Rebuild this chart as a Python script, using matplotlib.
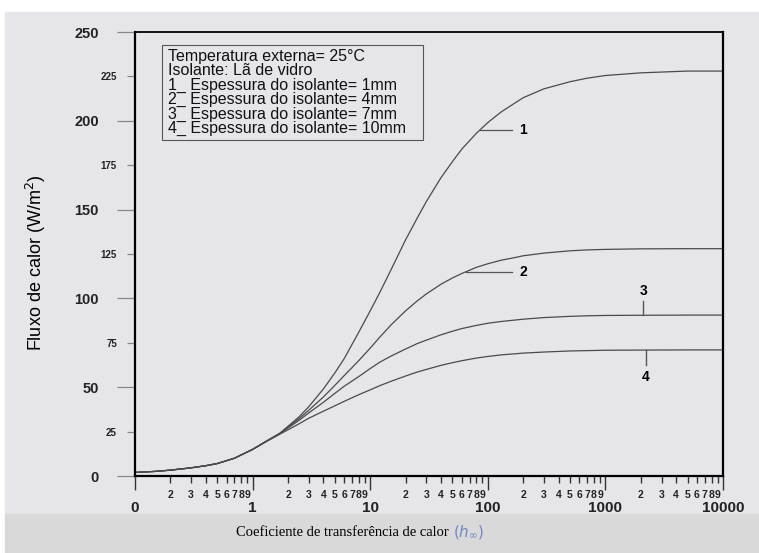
import numpy as np
import matplotlib.pyplot as plt
from matplotlib.patches import Rectangle
from matplotlib.ticker import FixedLocator, FixedFormatter


# coeficiente h (eixo log, o rótulo "0" fica em 0.1)
h = [0.1, 0.15, 0.2, 0.3, 0.4, 0.5, 0.7, 1, 1.3, 1.7, 2, 2.5, 3, 4, 5, 6, 8,
     10, 12, 15, 20, 25, 30, 40, 50, 60, 80, 100, 130, 170, 200, 300, 500,
     700, 1000, 2000, 5000, 10000]

# fluxo de calor (W/m2) para cada espessura de isolante
q_1mm = [2.0, 2.6, 3.3, 4.6, 5.8, 7.0, 10.0, 15.0, 19.5, 24.0, 28.0, 33.5,
         39.0, 49.0, 58.0, 66.0, 81.0, 93.0, 103.0, 116.0, 133.0, 145.0, 154.5,
         168.0, 177.0, 184.0, 193.0, 199.0, 205.0, 210.0, 213.0, 218.0, 222.0,
         224.0, 225.5, 227.0, 228.0, 228.0]
q_4mm = [2.0, 2.6, 3.3, 4.6, 5.8, 7.0, 10.0, 15.0, 19.5, 24.0, 27.5, 32.5,
         37.0, 44.5, 51.0, 56.5, 65.0, 72.0, 78.0, 85.0, 93.0, 98.5, 102.5,
         108.0, 111.5, 114.0, 117.5, 119.5, 121.5, 123.0, 124.0, 125.5, 126.8,
         127.3, 127.6, 127.9, 128.0, 128.0]
q_7mm = [2.0, 2.6, 3.3, 4.6, 5.8, 7.0, 10.0, 15.0, 19.4, 23.8, 27.0, 31.5,
         35.5, 41.5, 46.5, 50.5, 56.0, 60.5, 64.0, 67.5, 71.5, 74.5, 76.5,
         79.5, 81.5, 83.0, 84.8, 86.0, 87.0, 87.8, 88.3, 89.2, 89.9, 90.2,
         90.4, 90.5, 90.6, 90.6]
q_10mm = [2.0, 2.6, 3.3, 4.6, 5.8, 7.0, 10.0, 14.9, 19.3, 23.5, 26.0, 29.5,
          32.5, 36.5, 39.5, 42.0, 45.8, 48.5, 50.8, 53.3, 56.3, 58.5, 60.0,
          62.3, 63.8, 64.9, 66.4, 67.3, 68.2, 68.8, 69.2, 69.8, 70.4, 70.6,
          70.8, 70.9, 71.0, 71.0]

legend_lines = [
    "Temperatura externa= 25°C",
    "Isolante: Lã de vidro",
    "1_ Espessura do isolante= 1mm",
    "2_ Espessura do isolante= 4mm",
    "3_ Espessura do isolante= 7mm",
    "4_ Espessura do isolante= 10mm",
]

y_major = [0, 50, 100, 150, 200, 250]
y_minor = [25, 75, 125, 175, 225]
x_major = [0.1, 1, 10, 100, 1000, 10000]
x_major_labels = ["0", "1", "10", "100", "1000", "10000"]

SCAN = "#e6e6ea"
BAND = "#d9d9d9"
INK = "#4a4a4a"
FONT = "Liberation Sans"


def main():
    fig = plt.figure(figsize=(7.59, 5.53), dpi=100, facecolor="white")
    W, H = 759.0, 553.0

    # fundo da folha digitalizada e faixa da legenda do eixo x
    fig.patches.append(Rectangle((5 / W, 39 / H), 1, (514 - 12) / H,
                                 transform=fig.transFigure, color=SCAN, zorder=-5))
    fig.patches.append(Rectangle((5 / W, 0), 1, 39 / H,
                                 transform=fig.transFigure, color=BAND, zorder=-5))

    ax = fig.add_axes([135 / W, 77 / H, 588 / W, 444 / H])
    ax.set_facecolor("none")

    for q in (q_1mm, q_4mm, q_7mm, q_10mm):
        ax.plot(h, q, color=INK, lw=0.9)

    ax.set_xscale("log")
    ax.set_xlim(0.1, 10000)
    ax.set_ylim(0, 250)

    for side in ("left", "bottom", "right"):
        ax.spines[side].set_linewidth(1.6)
    ax.spines["top"].set_linewidth(1.3)

    # eixo y
    ax.yaxis.set_major_locator(FixedLocator(y_major))
    ax.yaxis.set_major_formatter(FixedFormatter([str(v) for v in y_major]))
    ax.yaxis.set_minor_locator(FixedLocator(y_minor))
    ax.yaxis.set_minor_formatter(FixedFormatter([str(v) for v in y_minor]))
    ax.tick_params(axis="y", which="major", length=13, width=0.9, color="#888888",
                   pad=13, labelsize=10.5)
    ax.tick_params(axis="y", which="minor", length=6, width=0.9, color="#888888",
                   pad=7, labelsize=7)

    # eixo x: décadas com subdivisões 2..9
    x_minor = [m * d for d in x_major[:-1] for m in range(2, 10)]
    x_minor_labels = [str(m) for d in x_major[:-1] for m in range(2, 10)]
    ax.xaxis.set_major_locator(FixedLocator(x_major))
    ax.xaxis.set_major_formatter(FixedFormatter(x_major_labels))
    ax.xaxis.set_minor_locator(FixedLocator(x_minor))
    ax.xaxis.set_minor_formatter(FixedFormatter(x_minor_labels))
    ax.tick_params(axis="x", which="major", length=10, width=1.0, color="#333333",
                   pad=8, labelsize=11)
    ax.tick_params(axis="x", which="minor", length=5, width=1.0, color="#333333",
                   pad=5, labelsize=7.5)

    for lab in ax.get_xticklabels(which="both") + ax.get_yticklabels(which="both"):
        lab.set_fontfamily(FONT)
        lab.set_fontweight("bold")
        lab.set_color("#222222")

    ax.set_ylabel("Fluxo de calor (W/m$^2$)", fontsize=13, family=FONT)
    ax.yaxis.set_label_coords(-0.148, 0.48)

    # quadro com as condições
    ax.add_patch(Rectangle((0.046, 0.757), 0.444, 0.214, transform=ax.transAxes,
                           fill=False, ec="#555555", lw=0.8))
    for i, line in enumerate(legend_lines):
        ax.text(0.056, 0.935 - i * 0.0325, line, transform=ax.transAxes,
                family=FONT, fontsize=11.5, va="baseline", color="#111111")

    # indicações das curvas 1 e 2 (traço horizontal)
    logh = np.log10(h)
    for q, name, yv in ((q_1mm, "1", 195), (q_4mm, "2", 115)):
        x0 = 10 ** np.interp(yv, q, logh)
        ax.plot([x0, 160], [yv, yv], color="#555555", lw=0.9)
        ax.text(200, yv, name, family=FONT, fontsize=10, fontweight="bold",
                ha="center", va="center")

    # indicações das curvas 3 e 4 (traço vertical)
    for q, name, xv, dy, ylab in ((q_7mm, "3", 2100, 8, 104),
                                  (q_10mm, "4", 2200, -8.5, 55.5)):
        yc = np.interp(np.log10(xv), logh, q)
        ax.plot([xv, xv], [yc, yc + dy], color="#555555", lw=1.0)
        ax.text(xv, ylab, name, family=FONT, fontsize=10, fontweight="bold",
                ha="center", va="center")

    # legenda do eixo x
    fig.text(452 / W, 20 / H, "Coeficiente de transferência de calor ",
             family="Liberation Serif", fontsize=10.5, ha="right", va="center")
    fig.text(453 / W, 21 / H, r"$(h_{\infty})$", fontsize=11,
             color="#7088c4", ha="left", va="center")

    fig.savefig("out.png", dpi=100, facecolor=fig.get_facecolor())


if __name__ == "__main__":
    main()
